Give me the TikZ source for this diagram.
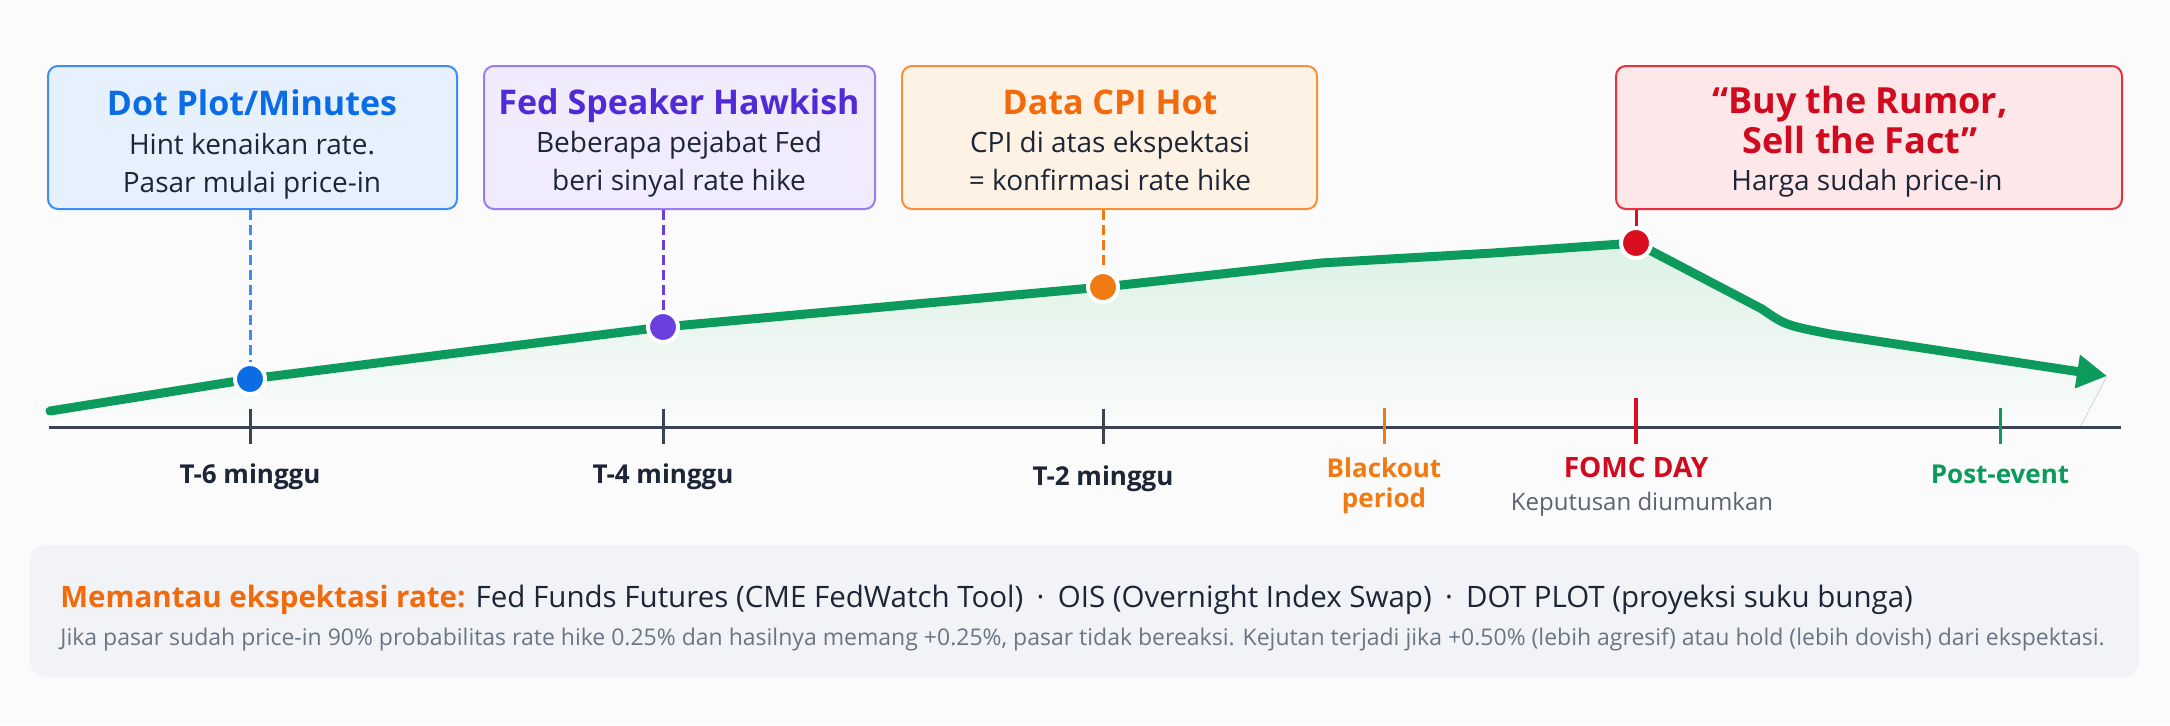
\documentclass[tikz,border=0pt]{standalone}
\usepackage{fontspec}
\setmainfont{Open Sans}
\usetikzlibrary{arrows.meta,fit}
\definecolor{bgc}{HTML}{FBFBFC}
\definecolor{ink}{HTML}{1C2636}
\definecolor{axisc}{HTML}{3A4452}
\definecolor{bluet}{HTML}{0B6DE6}
\definecolor{blueb}{HTML}{3D8EF0}
\definecolor{bluef}{HTML}{E6F1FD}
\definecolor{purt}{HTML}{5229D6}
\definecolor{purb}{HTML}{9C7BF2}
\definecolor{purf}{HTML}{F0ECFD}
\definecolor{purd}{HTML}{6A3FE0}
\definecolor{orat}{HTML}{F26A0C}
\definecolor{orab}{HTML}{F7903A}
\definecolor{oraf}{HTML}{FEF2E4}
\definecolor{orad}{HTML}{F27A12}
\definecolor{redt}{HTML}{D00A1F}
\definecolor{redb}{HTML}{E8313F}
\definecolor{redf}{HTML}{FDE7E9}
\definecolor{redd}{HTML}{D90F20}
\definecolor{grn}{HTML}{0C9A5D}
\definecolor{mint}{HTML}{DCF2E5}
\definecolor{grayt}{HTML}{5A6472}
\definecolor{grayl}{HTML}{6B7684}
\definecolor{panel}{HTML}{F1F3F6}
\newcommand\ftitle{\fontsize{17pt}{20pt}\selectfont\bfseries}
\newcommand\fbody{\fontsize{14pt}{17pt}\selectfont}
\newcommand\faxis{\fontsize{13pt}{16pt}\selectfont\bfseries}
\begin{document}
\begin{tikzpicture}[x=0.5pt,y=-0.5pt,
  evbox/.style={draw=#1, line width=1pt, rounded corners=5pt, inner sep=0pt},
  ttl/.style={anchor=base, inner sep=0pt, font=\ftitle, text=#1},
  bdy/.style={anchor=base, inner sep=0pt, font=\fbody, text=ink},
  lbl/.style={anchor=base, inner sep=0pt, font=\faxis, text=#1},
  conn/.style={draw=#1, line width=1.5pt, dash pattern=on 5pt off 2.5pt},
  dotn/.style={circle, fill=#1, draw=white, line width=2pt, minimum size=15pt, inner sep=0pt},
  tickm/.style={draw=#1, line width=1.5pt},
  curve/.style={draw=grn, line width=4.5pt, line join=round, line cap=round}
]
\useasboundingbox (0,0) rectangle (2170,725);
\fill[bgc] (0,0) rectangle (2170,725);

% positions on the curve
\coordinate (c0) at (50,411);
\coordinate (p1) at (250,379);
\coordinate (p2) at (663,327);
\coordinate (p3) at (1103,287);
\coordinate (q1) at (1321,263);
\coordinate (q2) at (1493,253);
\coordinate (p4) at (1636,243);
\coordinate (q3) at (1762,309);
\coordinate (q4) at (1830,334);
\coordinate (cend) at (2107,376);

% area fill
\fill[top color=mint, bottom color=bgc, shading angle=0]
  (c0) -- (p1) -- (p2) -- (p3) -- (q1) -- (q2) -- (p4) -- (q3)
  .. controls (1785,325) .. (q4) -- (cend) -- (2080,427) -- (50,427) -- cycle;

% axis
\coordinate (ax0) at (49,427);
\coordinate (ax1) at (2121,427);
\draw[draw=axisc, line width=1.5pt] (ax0) -- (ax1);
\draw[tickm=axisc] (250,409) -- (250,444);
\draw[tickm=axisc] (663,409) -- (663,444);
\draw[tickm=axisc] (1103,409) -- (1103,444);
\draw[tickm=orad] (1384,408) -- (1384,444);
\draw[tickm=redd, line width=2pt] (1636,398) -- (1636,444);
\draw[tickm=grn] (2000,408) -- (2000,444);

% curve
\draw[curve, -{Triangle[length=15pt,width=16pt]}]
  (c0) -- (p1) -- (p2) -- (p3) -- (q1) -- (q2) -- (p4) -- (q3)
  .. controls (1785,325) .. (q4) -- (cend);

% boxes
\node[evbox=blueb, fill=bluef, fit={(48,66) (457,209)}] (b1) {};
\node[evbox=purb, fill=purf, fit={(484,66) (875,209)}] (b2) {};
\node[evbox=orab, fill=oraf, fit={(902,66) (1317,209)}] (b3) {};
\node[evbox=redb, fill=redf, fit={(1616,66) (2122,209)}] (b4) {};

\node[ttl=bluet] (t1) at (252,115) {Dot Plot/Minutes};
\node[bdy] (t1a) at (252,154) {Hint kenaikan rate.};
\node[bdy] (t1b) at (252,192) {Pasar mulai price-in};

\node[ttl=purt] (t2) at (679,114) {Fed Speaker Hawkish};
\node[bdy] (t2a) at (679,152) {Beberapa pejabat Fed};
\node[bdy] (t2b) at (679,190) {beri sinyal rate hike};

\node[ttl=orat] (t3) at (1110,114) {Data CPI Hot};
\node[bdy] (t3a) at (1110,152) {CPI di atas ekspektasi};
\node[bdy] (t3b) at (1110,190) {= konfirmasi rate hike};

\node[ttl=redt, font=\fontsize{18pt}{21pt}\selectfont\bfseries] (t4) at (1860,113) {“Buy the Rumor,};
\node[ttl=redt, font=\fontsize{18pt}{21pt}\selectfont\bfseries] (t4a) at (1860,153) {Sell the Fact”};
\node[bdy] (t4b) at (1867,190) {Harga sudah price-in};

% connectors
\draw[conn=blueb] (b1.south -| p1) -- (p1);
\draw[conn=purd] (b2.south -| p2) -- (p2);
\draw[conn=orad] (b3.south -| p3) -- (p3);
\draw[draw=redd, line width=1.5pt] (b4.south -| p4) -- (p4);

% dots
\node[dotn=bluet] (d1) at (p1) {};
\node[dotn=purd] (d2) at (p2) {};
\node[dotn=orad] (d3) at (p3) {};
\node[dotn=redd] (d4) at (p4) {};

% axis labels
\node[lbl=ink] (l1) at (250,483) {T-6 minggu};
\node[lbl=ink] (l2) at (663,483) {T-4 minggu};
\node[lbl=ink] (l3) at (1103,485) {T-2 minggu};
\node[lbl=orad] (l4) at (1384,477) {Blackout};
\node[lbl=orad] (l4b) at (1384,507) {period};
\node[lbl=redt, font=\fontsize{14pt}{16pt}\selectfont\bfseries] (l5) at (1636,477) {FOMC DAY};
\node[anchor=base, inner sep=0pt, font=\fontsize{12pt}{14pt}\selectfont, text=grayt] (l5b) at (1642,510) {Keputusan diumumkan};
\node[lbl=grn] (l6) at (2000,483) {Post-event};

% bottom panel
\node[fill=panel, rounded corners=8pt, inner sep=0pt, fit={(30,545) (2139,677)}] (panel) {};
\node[anchor=base west, inner sep=0pt, font=\fontsize{14.75pt}{17pt}\selectfont, text=ink] (m1) at (60,607)
  {{\bfseries\color{orat}Memantau ekspektasi rate:} Fed Funds Futures (CME FedWatch Tool)\hspace{0.45em}·\hspace{0.45em}OIS (Overnight Index Swap)\hspace{0.45em}·\hspace{0.45em}DOT PLOT (proyeksi suku bunga)};
\node[anchor=base west, inner sep=0pt, font=\fontsize{11.5pt}{13pt}\selectfont, text=grayl] (m2) at (60,645)
  {Jika pasar sudah price-in 90\% probabilitas rate hike 0.25\% dan hasilnya memang +0.25\%, pasar tidak bereaksi. Kejutan terjadi jika +0.50\% (lebih agresif) atau hold (lebih dovish) dari ekspektasi.};
\end{tikzpicture}
\end{document}
